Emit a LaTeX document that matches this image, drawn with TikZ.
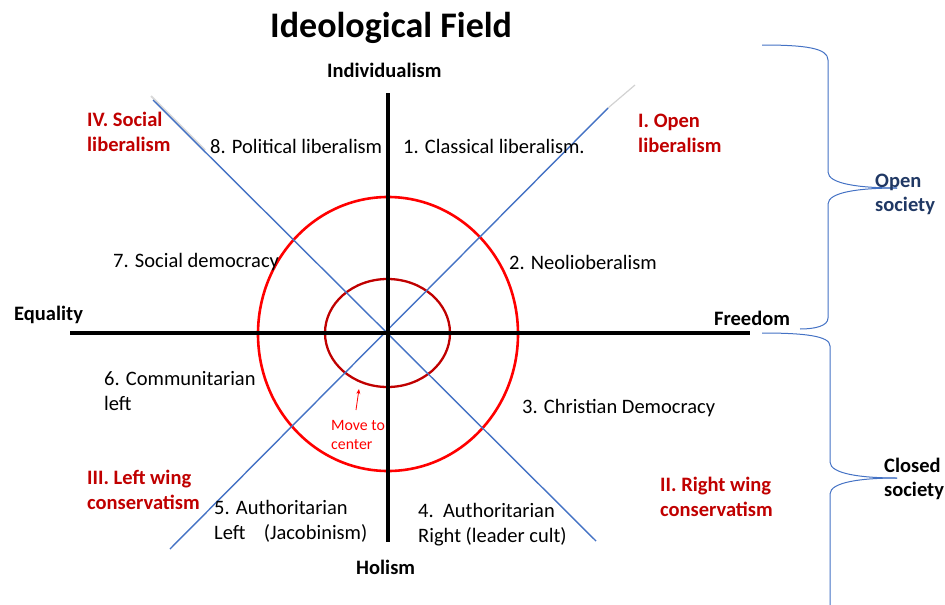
\documentclass[tikz,border=0pt]{standalone}
\usepackage{fontspec}
\setmainfont{Carlito}
\usetikzlibrary{arrows.meta}
\definecolor{lineblue}{HTML}{4472C4}
\definecolor{darkred}{HTML}{C00000}
\definecolor{brightred}{HTML}{FF0000}
\definecolor{navy}{HTML}{203864}
\tikzset{
  lbl/.style={inner sep=0pt, anchor=base west, font=\fontsize{20.5}{25}\selectfont},
  blbl/.style={lbl, font=\fontsize{20.5}{25}\selectfont\bfseries},
  quad/.style={blbl, text=darkred},
  axis/.style={line width=3.2pt, black},
  diag/.style={line width=1.4pt, lineblue},
  bracestyle/.style={line width=1pt, lineblue},
}
\begin{document}
\begin{tikzpicture}[x=1pt,y=-1pt]
\useasboundingbox (0,0) rectangle (945,605);
% coordinates
\coordinate (O) at (388,333);
\coordinate (top) at (388,93);
\coordinate (bot) at (388,542);
\coordinate (left) at (70,333);
\coordinate (right) at (750,333);
\coordinate (nw) at (153,100);
\coordinate (se) at (596,541);
\coordinate (ne) at (608,108);
\coordinate (sw) at (170,549);
\coordinate (nefaint) at (635,85);
% circles
\draw[brightred, line width=2.6pt] (388,334) ellipse [x radius=130pt, y radius=137pt];
\draw[darkred, line width=2.3pt] (387.5,333) ellipse [x radius=62.5pt, y radius=54pt];
% diagonals
\draw[gray!35, line width=1.2pt] (ne) -- (nefaint);
\draw[gray!30, line width=2pt] (151,96) -- (205,150);
\draw[diag] (nw) -- (se);
\draw[diag] (ne) -- (sw);
% axes
\draw[axis] (top) -- (bot);
\draw[axis] (left) -- (right);
% arrow
\coordinate (arrtail) at (356,410);
\coordinate (arrhead) at (359,389);
\draw[brightred, line width=0.8pt, -{Stealth[length=5pt,width=4pt]}] (arrtail) -- (arrhead);
% title
\node[inner sep=0pt, anchor=base west, font=\fontsize{36}{40}\selectfont\bfseries] (title) at (270,37) {Ideological Field};
% axis labels
\node[blbl] (indiv) at (327,77) {Individualism};
\node[blbl] (holism) at (356,574) {Holism};
\node[blbl] (equality) at (14,320) {Equality};
\node[blbl] (freedom) at (714,325) {Freedom};
% quadrant labels
\node[quad] (q4a) at (87,126) {IV. Social};
\node[quad] (q4b) at (87,151) {liberalism};
\node[quad] (q1a) at (638,127) {I. Open};
\node[quad] (q1b) at (638,152) {liberalism};
\node[quad] (q3a) at (87,484) {III. Left wing};
\node[quad] (q3b) at (87,509) {conservatism};
\node[quad] (q2a) at (660,491) {II. Right wing};
\node[quad] (q2b) at (660,516) {conservatism};
% ideology labels
\node[lbl] (l8) at (210,153) {8. Political liberalism};
\node[lbl] (l1) at (403,153) {1. Classical liberalism.};
\node[lbl] (l7) at (113,267) {7. Social democracy};
\node[lbl] (l2) at (509,269) {2. Neolioberalism};
\node[lbl] (l6a) at (104,385) {6. Communitarian};
\node[lbl] (l6b) at (104,410) {left};
\node[lbl] (l3) at (522,413) {3. Christian Democracy};
\node[lbl] (l5a) at (214,514) {5. Authoritarian};
\node[lbl] (l5b) at (214,539) {Left\hspace{0.9em}(Jacobinism)};
\node[lbl] (l4a) at (418,517) {4.\ \ Authoritarian};
\node[lbl] (l4b) at (418,542) {Right (leader cult)};
% move to center
\node[inner sep=0pt, anchor=base west, text=brightred, font=\fontsize{15.8}{19}\selectfont] (mv1) at (331,430) {Move to};
\node[inner sep=0pt, anchor=base west, text=brightred, font=\fontsize{15.8}{19}\selectfont] (mv2) at (331,449) {center};
% braces
\draw[bracestyle] (762,45) .. controls (805,45) and (828,48) .. (828,60) -- (828,172)
  .. controls (828,184) and (860,188) .. (897,188);
\draw[bracestyle] (897,188) .. controls (860,188) and (828,192) .. (828,204) -- (828,318)
  .. controls (828,326) and (815,329) .. (800,329);
\draw[bracestyle] (762,333) .. controls (805,333) and (830,336) .. (830,346) -- (830,462)
  .. controls (830,474) and (862,478) .. (897,478);
\draw[bracestyle] (897,478) .. controls (862,478) and (830,482) .. (830,494) -- (830,605);
\node[blbl, text=navy] (os1) at (875,187) {Open};
\node[blbl, text=navy] (os2) at (875,211) {society};
\node[blbl] (cs1) at (884,472) {Closed};
\node[blbl] (cs2) at (884,496) {society};
\end{tikzpicture}
\end{document}
